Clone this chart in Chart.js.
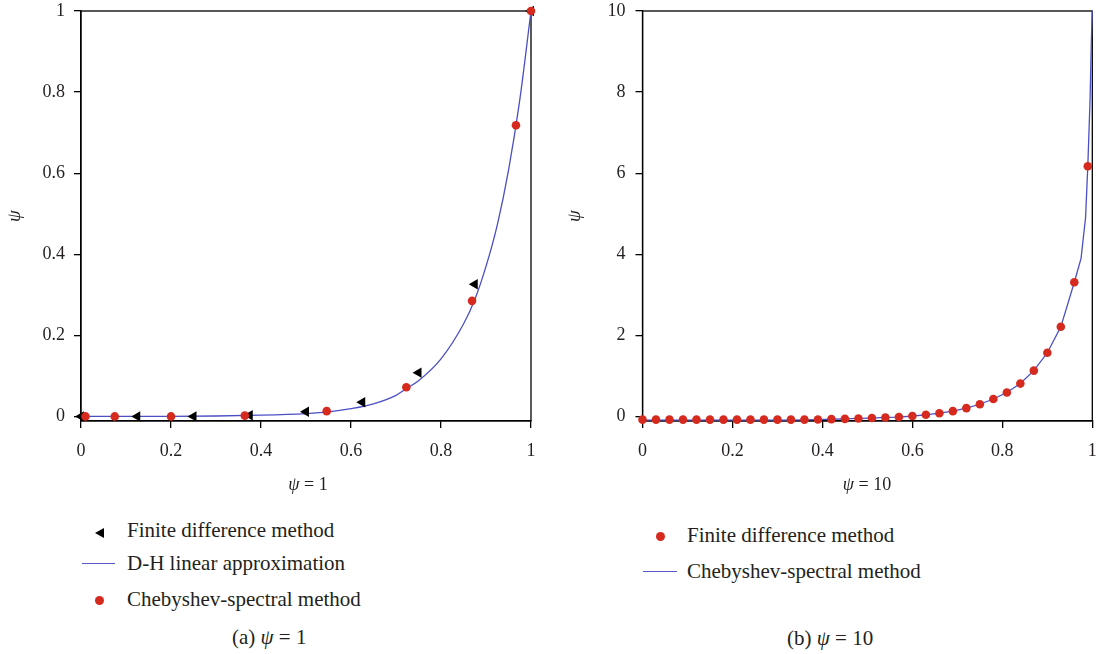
<!DOCTYPE html>
<html>
<head>
<meta charset="utf-8">
<script src="https://cdn.jsdelivr.net/npm/chart.js@4.4.0/dist/chart.umd.min.js"></script>
<style>
html,body{margin:0;padding:0;background:#fff;}
body{width:1097px;height:654px;position:relative;overflow:hidden;font-family:'Liberation Serif','Times New Roman',serif;color:#231f20;}
canvas{position:absolute;top:0;}
.t{position:absolute;font-size:21px;line-height:24px;white-space:nowrap;}
.xt{position:absolute;font-size:18px;line-height:22px;white-space:nowrap;transform:translateX(-50%);}
i{font-style:italic;}
.dot{position:absolute;width:9px;height:9px;border-radius:50%;background:#d62a1f;}
.ln{position:absolute;height:0;border-top:1.3px solid #5558c8;}
.tri{position:absolute;width:0;height:0;border-top:5px solid transparent;border-bottom:5px solid transparent;border-right:9px solid #000;}
</style>
</head>
<body>
<canvas id="cA" width="548" height="500" style="left:0"></canvas>
<canvas id="cB" width="537" height="500" style="left:560px"></canvas>

<div class="xt" style="left:308px;top:473px"><i>ψ</i> = 1</div>
<div class="xt" style="left:867px;top:473px"><i>ψ</i> = 10</div>

<div class="tri" style="left:94.5px;top:527.5px"></div>
<div class="t" style="left:127px;top:518px">Finite difference method</div>
<div class="ln" style="left:82px;top:563px;width:33px"></div>
<div class="t" style="left:127px;top:551px">D-H linear approximation</div>
<div class="dot" style="left:95px;top:595.5px"></div>
<div class="t" style="left:127px;top:587px">Chebyshev-spectral method</div>
<div class="t" style="left:232px;top:625px">(a) <i>ψ</i> = 1</div>

<div class="dot" style="left:655.5px;top:532px"></div>
<div class="t" style="left:687px;top:523px">Finite difference method</div>
<div class="ln" style="left:643px;top:571px;width:34px"></div>
<div class="t" style="left:687px;top:559px">Chebyshev-spectral method</div>
<div class="t" style="left:787px;top:626px">(b) <i>ψ</i> = 10</div>

<script>
// ---- Panel (a): psi = 1 ----
const aFdX   = [0, 0.125, 0.25, 0.375, 0.5, 0.625, 0.75, 0.875, 1];
const aFdY   = [0, 0, 0, 0.003, 0.0115, 0.035, 0.108, 0.326, 1];
const aDhX   = [0, 0.1, 0.2, 0.3, 0.4, 0.5, 0.55, 0.6, 0.65, 0.7, 0.725, 0.75, 0.8, 0.85, 0.875, 0.9, 0.925, 0.95, 0.975, 1];
const aDhY   = [0, 0, 0, 0.001, 0.003, 0.007, 0.011, 0.019, 0.031, 0.052, 0.07, 0.088, 0.142, 0.228, 0.288, 0.37, 0.472, 0.607, 0.78, 1];
const aChX   = [0.01, 0.075, 0.2, 0.364, 0.546, 0.723, 0.869, 0.9666, 1];
const aChY   = [0, 0, 0, 0.002, 0.013, 0.072, 0.285, 0.718, 1];
const aYTicks = [0, 0.2, 0.4, 0.6, 0.8, 1];
const aYLabels = ['0', '0.2', '0.4', '0.6', '0.8', '1'];

// ---- Panel (b): psi = 10 ----
const bFdX = [0, 0.03, 0.06, 0.09, 0.12, 0.15, 0.18, 0.21, 0.24, 0.27, 0.30, 0.33, 0.36, 0.39, 0.42, 0.45, 0.48, 0.51, 0.54, 0.57, 0.60, 0.63, 0.66, 0.69, 0.72, 0.75, 0.78, 0.81, 0.84, 0.87, 0.90, 0.93, 0.96, 0.99];
const bFdY = [-0.08, -0.08, -0.08, -0.08, -0.08, -0.08, -0.08, -0.08, -0.08, -0.08, -0.08, -0.08, -0.08, -0.075, -0.066, -0.06, -0.05, -0.04, -0.025, -0.016, 0.01, 0.04, 0.08, 0.13, 0.205, 0.30, 0.43, 0.59, 0.81, 1.13, 1.57, 2.21, 3.31, 6.17];
const bChX = [0, 0.03, 0.06, 0.09, 0.12, 0.15, 0.18, 0.21, 0.24, 0.27, 0.30, 0.33, 0.36, 0.39, 0.42, 0.45, 0.48, 0.51, 0.54, 0.57, 0.60, 0.63, 0.66, 0.69, 0.72, 0.75, 0.78, 0.81, 0.84, 0.87, 0.90, 0.93, 0.96, 0.975, 0.985, 0.99, 0.995, 0.998, 1];
const bChY = [-0.09, -0.09, -0.09, -0.09, -0.09, -0.09, -0.09, -0.09, -0.09, -0.09, -0.09, -0.09, -0.085, -0.08, -0.07, -0.06, -0.05, -0.04, -0.025, -0.015, 0.01, 0.04, 0.08, 0.13, 0.205, 0.30, 0.43, 0.59, 0.81, 1.13, 1.57, 2.21, 3.31, 3.9, 4.9, 6.17, 7.8, 9.3, 10];
const bYTicks = [0, 2, 4, 6, 8, 10];
const bYLabels = ['0', '2', '4', '6', '8', '10'];

const xTicks = [0, 0.2, 0.4, 0.6, 0.8, 1];
const xLabels = ['0', '0.2', '0.4', '0.6', '0.8', '1'];

const RED = '#d62a1f', BLUE = '#4b4fc4', INK = '#231f20';
const FAM = "'Liberation Serif','Times New Roman',serif";
const pts = (xs, ys) => xs.map((x, i) => ({x, y: ys[i]}));

const boxPlugin = {
  id: 'box',
  beforeDatasetsDraw(chart) {
    const {ctx, chartArea: a} = chart;
    ctx.save();
    ctx.strokeStyle = '#000';
    ctx.lineWidth = 1.3;
    ctx.strokeRect(a.left, a.top, a.right - a.left, a.bottom - a.top);
    ctx.restore();
  }
};

function makeChart(id, datasets, o) {
  return new Chart(document.getElementById(id), {
    type: 'scatter',
    data: {datasets},
    options: {
      responsive: false,
      animation: false,
      layout: {padding: {top: 11, right: o.padRight, left: 0, bottom: 0}},
      plugins: {legend: {display: false}, tooltip: {enabled: false}},
      scales: {
        x: {
          type: 'linear', min: 0, max: 1,
          afterBuildTicks: s => { s.ticks = xTicks.map(v => ({value: v})); },
          afterFit: s => { s.height = 79; s.paddingLeft = 0; s.paddingRight = 0; },
          grid: {drawOnChartArea: false, drawTicks: true, tickLength: 7, color: '#000', lineWidth: 1.3},
          border: {display: true, color: '#000', width: 1.3},
          ticks: {color: INK, font: {family: FAM, size: 18}, padding: 12, maxRotation: 0,
                  callback: (v, i) => xLabels[i]}
        },
        y: {
          type: 'linear', min: o.yMin, max: o.yMax,
          afterBuildTicks: s => { s.ticks = o.yTicks.map(v => ({value: v})); },
          afterFit: s => { s.width = o.yWidth; s.paddingTop = 0; s.paddingBottom = 0; },
          grid: {drawOnChartArea: false, drawTicks: true, tickLength: 7, color: '#000', lineWidth: 1.3},
          border: {display: true, color: '#000', width: 1.3},
          ticks: {color: INK, font: {family: FAM, size: 18}, padding: o.yPad,
                  callback: (v, i) => o.yLabels[i]},
          title: {display: true, text: 'ψ', color: INK, font: {family: FAM, size: 19, style: 'italic'},
                  padding: {top: 4, bottom: 0}}
        }
      }
    },
    plugins: [boxPlugin]
  });
}

makeChart('cA', [
  {label: 'Chebyshev-spectral method', data: pts(aChX, aChY), showLine: false,
   pointStyle: 'circle', pointRadius: 4.3, backgroundColor: RED, borderWidth: 0, clip: false},
  {label: 'Finite difference method', data: pts(aFdX, aFdY), showLine: false,
   pointStyle: 'triangle', rotation: -90, pointRadius: 6, backgroundColor: '#000', borderWidth: 0, clip: false},
  {label: 'D-H linear approximation', data: pts(aDhX, aDhY), showLine: true, pointRadius: 0,
   borderColor: BLUE, borderWidth: 1.3, cubicInterpolationMode: 'monotone', clip: false}
], {yMin: -0.0113, yMax: 1, yTicks: aYTicks, yLabels: aYLabels, yWidth: 81, yPad: 9, padRight: 17});

makeChart('cB', [
  {label: 'Finite difference method', data: pts(bFdX, bFdY), showLine: false,
   pointStyle: 'circle', pointRadius: 4.3, backgroundColor: RED, borderWidth: 0, clip: false},
  {label: 'Chebyshev-spectral method', data: pts(bChX, bChY), showLine: true, pointRadius: 0,
   borderColor: BLUE, borderWidth: 1.3, tension: 0, clip: false}
], {yMin: -0.113, yMax: 10, yTicks: bYTicks, yLabels: bYLabels, yWidth: 82.5, yPad: 10, padRight: 4.7});
</script>
</body>
</html>
